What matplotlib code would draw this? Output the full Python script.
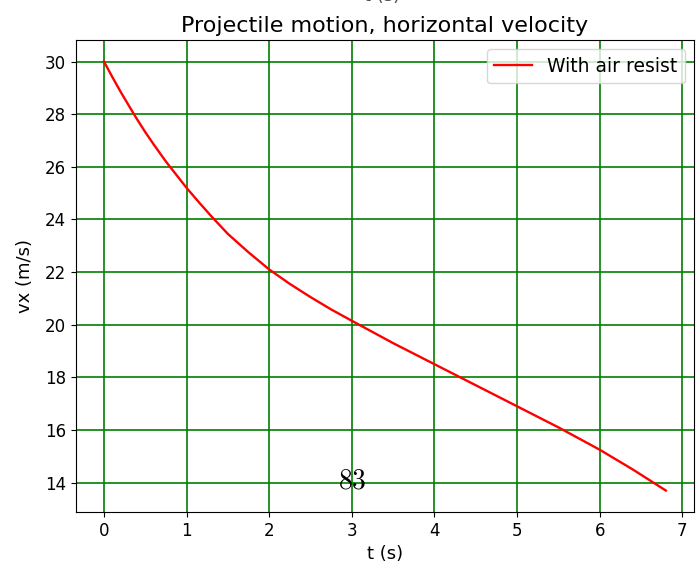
import matplotlib.pyplot as plt
import numpy as np

# horizontal velocity
t = [0, 0.1, 0.2, 0.3, 0.4, 0.5, 0.6, 0.75, 0.9, 1.0, 1.15, 1.3, 1.5, 1.75,
     2.0, 2.25, 2.5, 2.75, 3.0, 3.5, 4.0, 4.5, 5.0, 5.5, 6.0, 6.4, 6.8]
vx = [30, 29.42, 28.86, 28.33, 27.81, 27.32, 26.86, 26.2, 25.6, 25.2, 24.65,
      24.12, 23.45, 22.75, 22.1, 21.55, 21.05, 20.58, 20.15, 19.3, 18.5,
      17.7, 16.9, 16.1, 15.25, 14.5, 13.7]

plt.rcParams['font.size'] = 12
plt.rcParams['mathtext.fontset'] = 'cm'

fig = plt.figure(figsize=(6.96, 5.73), dpi=100)
ax = fig.add_axes([0.109, 0.1065, 0.888, 0.8235])

ax.plot(t, vx, color='red', linewidth=1.7, label='With air resist')
ax.set_xlabel('t (s)', fontsize=13)
ax.set_ylabel('vx (m/s)', fontsize=13, labelpad=8)
ax.set_title('Projectile motion, horizontal velocity', fontsize=16)
ax.grid(color='green', linewidth=1.2)
ax.legend(loc='upper right', fontsize=13.5)

# leftovers from the notebook output
fig.text(0.506, 0.162, r'$83$', fontsize=20, ha='center', va='center')
fig.text(382 / 696, 1 - 1 / 573, 't (s)', ha='center', va='baseline',
         fontsize=13, color='0.3')

fig.savefig('out.png', dpi=100)
